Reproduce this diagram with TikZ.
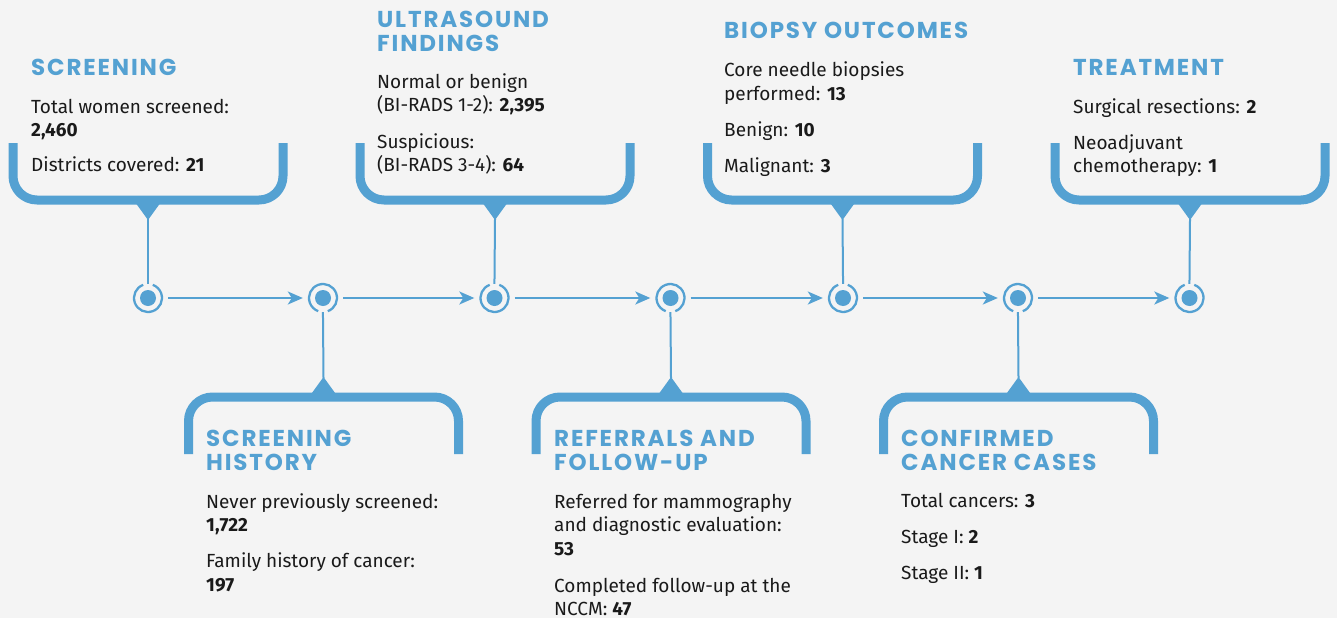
\documentclass[tikz,border=0pt]{standalone}
\usepackage{fontspec}
\setmainfont{Fira Sans}
\newfontfamily\headfont{Poppins}[LetterSpace=8]
\usetikzlibrary{arrows.meta}
\definecolor{blu}{RGB}{84,161,210}
\definecolor{bg}{RGB}{244,244,244}
\definecolor{ink}{RGB}{26,26,26}
\tikzset{
 body/.style={anchor=base west, inner sep=0pt, font=\fontsize{19}{23}\selectfont, text=ink},
 head/.style={anchor=base west, inner sep=0pt, font=\headfont\bfseries\fontsize{23}{24}\selectfont, text=blu},
 bracket/.style={draw=blu, line width=9pt, line cap=butt, line join=round},
 notch/.style={fill=blu},
 link/.style={draw=blu, line width=2pt},
 flow/.style={draw=blu, line width=2pt, -{Stealth[length=15pt,width=13pt,inset=4pt]}},
 stage/.style={circle, minimum size=40pt, inner sep=0pt},
 ring/.style={draw=blu, line width=2.3pt},
 dot/.style={fill=blu},
}
\newcommand{\topbox}[2]{% #1 name of tip, #2 cx
 \draw[bracket] (#2-135,-143) -- (#2-135,-176) arc[start angle=180,end angle=270,radius=24] -- (#2+111,-200) arc[start angle=270,end angle=360,radius=24] -- (#2+135,-143);
 \fill[notch] (#2-13,-202) -- (#2+13,-202) -- (#2,-220) -- cycle;
 \coordinate (#1) at (#2,-219);
}
\newcommand{\botbox}[2]{%
 \draw[bracket] (#2-135,-454) -- (#2-135,-421) arc[start angle=180,end angle=90,radius=24] -- (#2+111,-397) arc[start angle=90,end angle=0,radius=24] -- (#2+135,-454);
 \fill[notch] (#2-13,-395) -- (#2+13,-395) -- (#2,-377) -- cycle;
 \coordinate (#1) at (#2,-378);
}
\newcommand{\ringtop}[1]{\draw[ring] (#1.center) ++(110:14) arc[start angle=110,end angle=430,radius=14]; \fill[dot] (#1.center) circle (8);}
\newcommand{\ringbot}[1]{\draw[ring] (#1.center) ++(-70:14) arc[start angle=-70,end angle=250,radius=14]; \fill[dot] (#1.center) circle (8);}
\begin{document}
\begin{tikzpicture}[x=1pt,y=1pt]
\fill[bg] (0,0) rectangle (1337,-618);
\useasboundingbox (0,0) rectangle (1337,-618);

% stages
\node[stage] (c1) at (148,-298) {};
\node[stage] (c2) at (323,-298) {};
\node[stage] (c3) at (494.5,-298) {};
\node[stage] (c4) at (670.5,-298) {};
\node[stage] (c5) at (843,-298) {};
\node[stage] (c6) at (1018,-298) {};
\node[stage] (c7) at (1189.5,-298) {};
\ringtop{c1}\ringbot{c2}\ringtop{c3}\ringbot{c4}\ringtop{c5}\ringbot{c6}\ringtop{c7}

\draw[flow] (c1) -- (c2);
\draw[flow] (c2) -- (c3);
\draw[flow] (c3) -- (c4);
\draw[flow] (c4) -- (c5);
\draw[flow] (c5) -- (c6);
\draw[flow] (c6) -- (c7);

% brackets
\topbox{t1}{148}
\topbox{t3}{495}
\topbox{t5}{842.5}
\topbox{t7}{1190}
\botbox{t2}{323.5}
\botbox{t4}{671}
\botbox{t6}{1018.5}

\draw[link, shorten >=-6pt] (t1) -- (c1.north);
\draw[link, shorten >=-6pt] (t3) -- (c3.north);
\draw[link, shorten >=-6pt] (t5) -- (c5.north);
\draw[link, shorten >=-6pt] (t7) -- (c7.north);
\draw[link, shorten >=-6pt] (t2) -- (c2.south);
\draw[link, shorten >=-6pt] (t4) -- (c4.south);
\draw[link, shorten >=-6pt] (t6) -- (c6.south);

% Screening
\node[head] (h1) at (31,-75) {SCREENING};
\node[body] (b1a) at (31,-113) {Total women screened:};
\node[body] (b1b) at (31,-136) {\textbf{2,460}};
\node[body] (b1c) at (31,-171) {Districts covered: \textbf{21}};

% Ultrasound
\node[head] (h3a) at (377,-27.5) {ULTRASOUND};
\node[head] (h3b) at (377,-51.5) {FINDINGS};
\node[body] (b3a) at (377,-88) {Normal or benign};
\node[body] (b3b) at (377,-111) {(BI-RADS 1-2): \textbf{2,395}};
\node[body] (b3c) at (377,-148) {Suspicious:};
\node[body] (b3d) at (377,-171) {(BI-RADS 3-4): \textbf{64}};

% Biopsy
\node[head] (h5) at (724,-39) {BIOPSY OUTCOMES};
\node[body] (b5a) at (724,-77) {Core needle biopsies};
\node[body] (b5b) at (724,-100) {performed: \textbf{13}};
\node[body] (b5c) at (724,-136) {Benign: \textbf{10}};
\node[body] (b5d) at (724,-172) {Malignant: \textbf{3}};

% Treatment
\node[head] (h7) at (1073,-75) {TREATMENT};
\node[body] (b7a) at (1073,-113) {Surgical resections: \textbf{2}};
\node[body] (b7b) at (1073,-149) {Neoadjuvant};
\node[body] (b7c) at (1073,-172) {chemotherapy: \textbf{1}};

% Screening history
\node[head] (h2a) at (206,-446) {SCREENING};
\node[head] (h2b) at (206,-470.5) {HISTORY};
\node[body] (b2a) at (206,-508) {Never previously screened:};
\node[body] (b2b) at (206,-531) {\textbf{1,722}};
\node[body] (b2c) at (206,-567) {Family history of cancer:};
\node[body] (b2d) at (206,-591) {\textbf{197}};

% Referrals
\node[head] (h4a) at (554,-446) {REFERRALS AND};
\node[head] (h4b) at (554,-470.5) {FOLLOW-UP};
\node[body] (b4a) at (554,-508) {Referred for mammography};
\node[body] (b4b) at (554,-531) {and diagnostic evaluation:};
\node[body] (b4c) at (554,-555) {\textbf{53}};
\node[body] (b4d) at (554,-592) {Completed follow-up at the};
\node[body] (b4e) at (554,-615) {NCCM: \textbf{47}};

% Confirmed
\node[head] (h6a) at (901,-446) {CONFIRMED};
\node[head] (h6b) at (901,-470.5) {CANCER CASES};
\node[body] (b6a) at (901,-507) {Total cancers: \textbf{3}};
\node[body] (b6b) at (901,-543) {Stage I: \textbf{2}};
\node[body] (b6c) at (901,-579) {Stage II: \textbf{1}};
\end{tikzpicture}
\end{document}
